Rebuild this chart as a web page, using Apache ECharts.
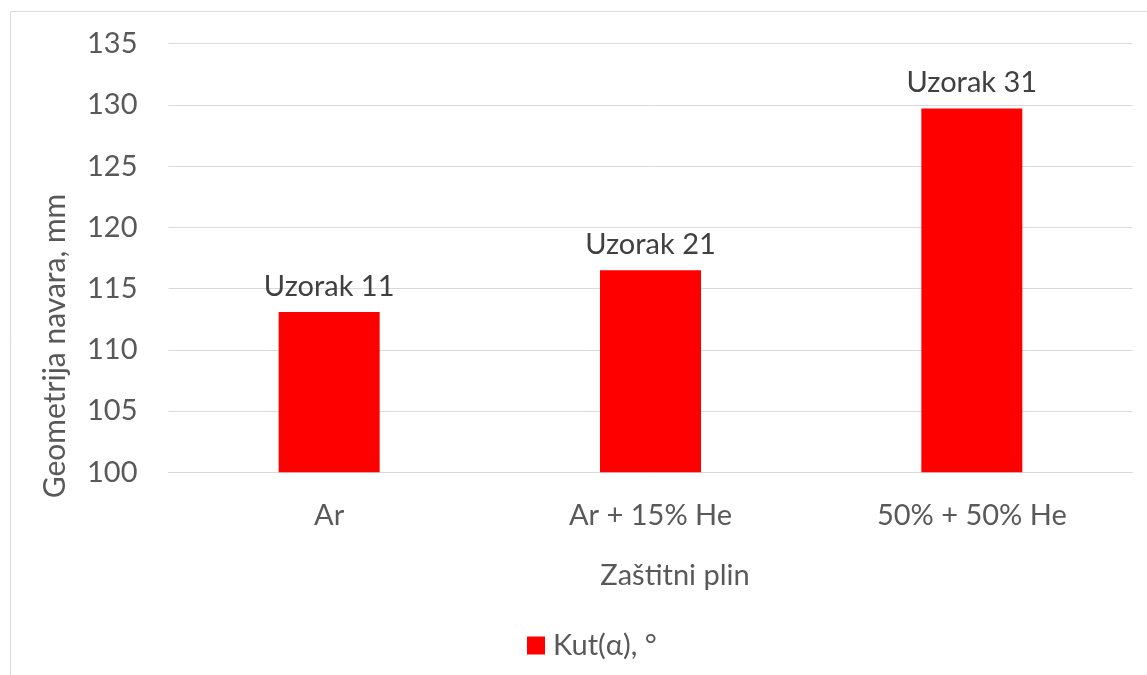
<!DOCTYPE html>
<html>
<head>
<meta charset="utf-8">
<script src="https://cdn.jsdelivr.net/npm/echarts@6/dist/echarts.min.js"></script>
<style>
  html, body { margin: 0; padding: 0; background: #ffffff; }
  #chart { width: 1147px; height: 675px; }
</style>
</head>
<body>
<div id="chart"></div>
<script>
// Shielding gas variants and the measured weld angle per sample
const categories = ['Ar', 'Ar + 15% He', '50% + 50% He'];
const values = [113.1, 116.5, 129.7];
const sampleLabels = ['Uzorak 11', 'Uzorak 21', 'Uzorak 31'];
const seriesName = 'Kut(α), °';
const yAxisTitle = 'Geometrija navara, mm';
const xAxisTitle = 'Zaštitni plin';

const FONT = 'Lato, "Open Sans", sans-serif';
const FS = 29;
const AXIS_TEXT = '#595959';
const LABEL_TEXT = '#404040';
const GRID_LINE = '#d9d9d9';
const BAR_RED = '#ff0000';

const chart = echarts.init(document.getElementById('chart'), null, { renderer: 'canvas' });

chart.setOption({
  backgroundColor: '#ffffff',
  animation: false,
  textStyle: { fontFamily: FONT },
  grid: { left: 168.5, right: 14.5, top: 43.7, bottom: 202.7, containLabel: false },
  xAxis: {
    type: 'category',
    data: categories,
    axisLine: { show: true, lineStyle: { color: GRID_LINE, width: 1 } },
    axisTick: { show: false },
    axisLabel: { color: AXIS_TEXT, fontSize: FS, fontFamily: FONT, margin: 29 }
  },
  yAxis: {
    type: 'value',
    min: 100,
    max: 135,
    interval: 5,
    axisLine: { show: false },
    axisTick: { show: false },
    axisLabel: { color: AXIS_TEXT, fontSize: FS, fontFamily: FONT, margin: 31 },
    splitLine: { show: true, lineStyle: { color: GRID_LINE, width: 1 } }
  },
  legend: {
    data: [seriesName],
    left: 522,
    top: 626,
    icon: 'rect',
    itemWidth: 18,
    itemHeight: 18,
    itemGap: 10,
    textStyle: { color: AXIS_TEXT, fontSize: FS, fontFamily: FONT, padding: [0, 0, 0, 3] }
  },
  series: [{
    name: seriesName,
    type: 'bar',
    data: values,
    barWidth: 101,
    itemStyle: { color: BAR_RED },
    label: {
      show: true,
      position: 'top',
      distance: 11,
      color: LABEL_TEXT,
      fontSize: FS,
      fontFamily: FONT,
      formatter: p => sampleLabels[p.dataIndex]
    }
  }],
  graphic: [
    {
      type: 'rect',
      shape: { x: 10.5, y: 11.5, width: 1200, height: 700 },
      style: { fill: 'none', stroke: GRID_LINE, lineWidth: 1 },
      silent: true,
      z: -1
    },
    {
      type: 'text',
      x: 55,
      y: 346,
      rotation: Math.PI / 2,
      style: {
        text: yAxisTitle,
        fill: AXIS_TEXT,
        font: '30px ' + FONT,
        align: 'center',
        verticalAlign: 'middle'
      }
    },
    {
      type: 'text',
      x: 675,
      y: 576,
      style: {
        text: xAxisTitle,
        fill: AXIS_TEXT,
        font: FS + 'px ' + FONT,
        align: 'center',
        verticalAlign: 'middle'
      }
    }
  ]
});
</script>
</body>
</html>
